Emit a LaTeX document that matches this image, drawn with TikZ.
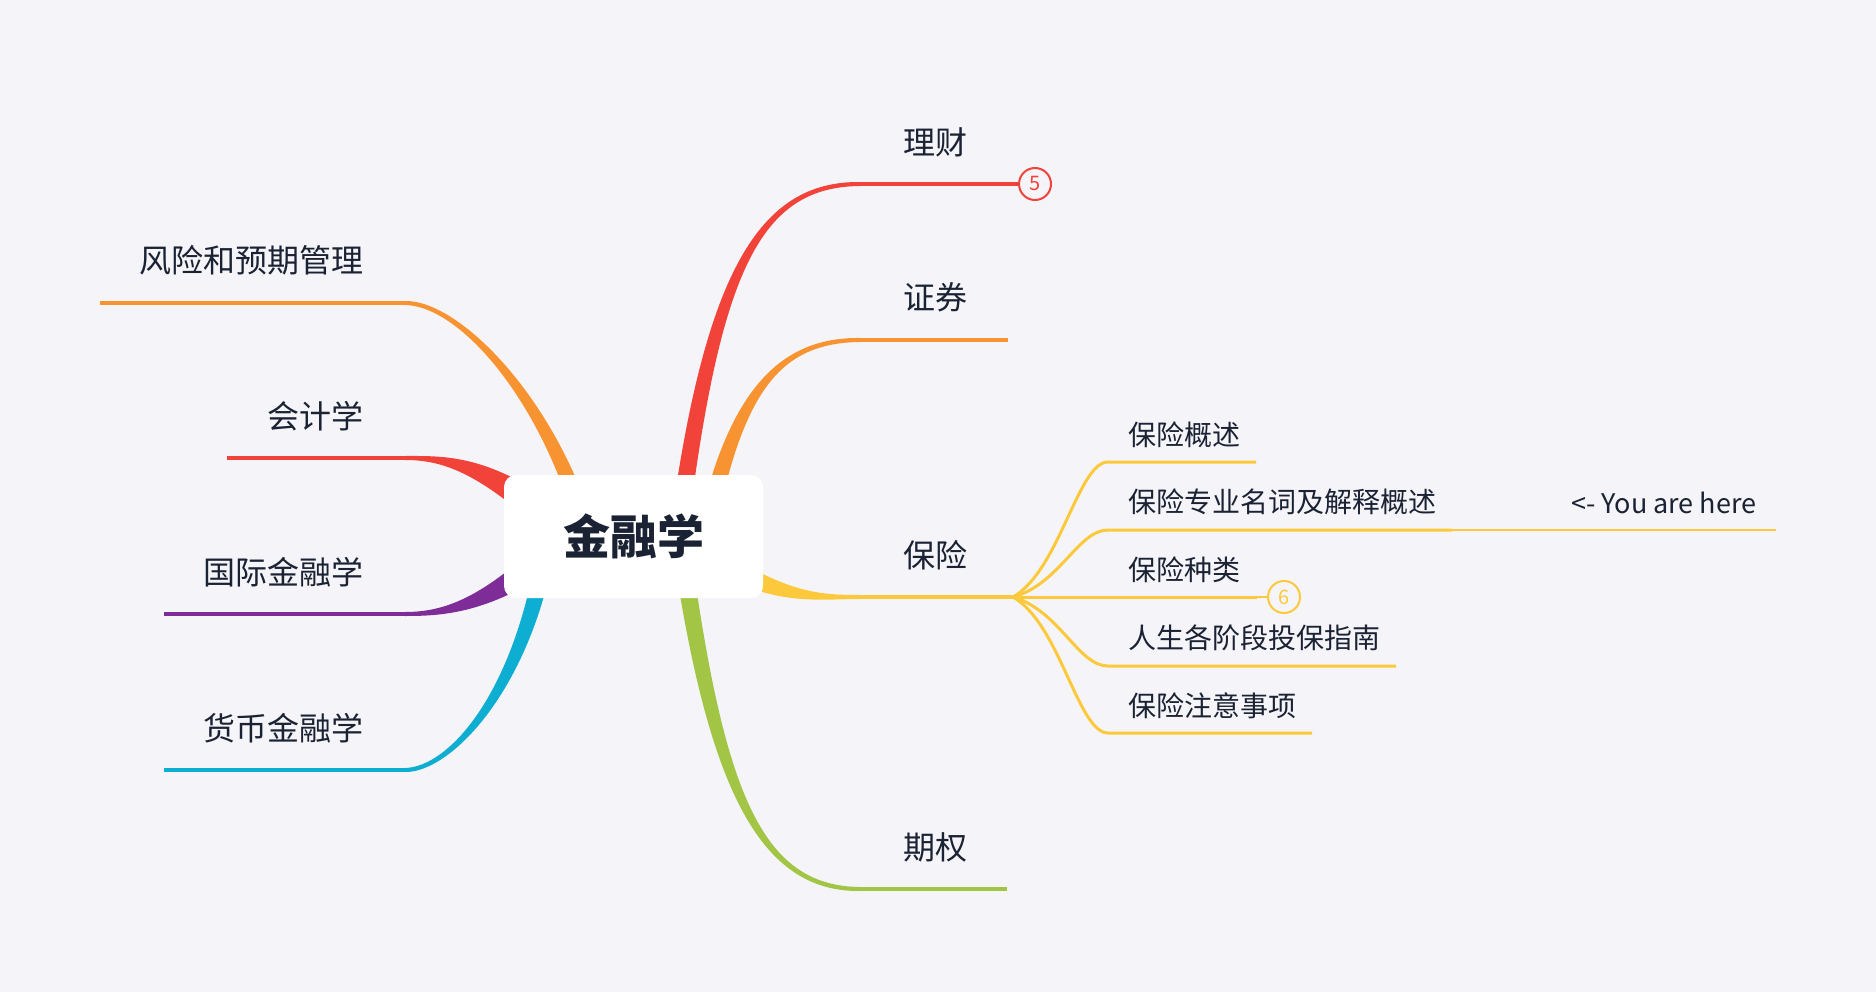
\documentclass[tikz,border=0pt]{standalone}
\usepackage{fontspec}
\setmainfont{Noto Sans CJK SC}
\usetikzlibrary{calc}
\definecolor{bg}{HTML}{F5F5F9}
\definecolor{ink}{HTML}{1A2233}
\definecolor{cred}{HTML}{F1433A}
\definecolor{corange}{HTML}{F79431}
\definecolor{cyellow}{HTML}{FCC93D}
\definecolor{cgreen}{HTML}{A2C545}
\definecolor{cpurple}{HTML}{7E2C98}
\definecolor{ccyan}{HTML}{0DAED2}
% tapered branch: color, P0, P1, P2, P3, end offset of the x-9 side
\newcommand\taperbranch[6]{%
  \fill[#1] ($(#2)+(-9,0)$) .. controls ($(#3)+(-8,0)$) and ($(#4)+(0,{1.5*(#6)})$) .. ($(#5)+(0,#6)$)
    -- ($(#5)+(0,{-1*(#6)})$) .. controls ($(#4)+(0,{-1.5*(#6)})$) and ($(#3)+(8,0)$) .. ($(#2)+(9,0)$) -- cycle;}
\begin{document}
\begin{tikzpicture}[x=1pt,y=-1pt,
  lbl/.style={text=ink,font=\fontsize{32}{38}\selectfont,inner sep=0pt},
  sublbl/.style={text=ink,font=\fontsize{28}{34}\selectfont,inner sep=0pt,anchor=west},
  notelbl/.style={text=ink,font=\fontsize{27}{32}\selectfont,inner sep=0pt,anchor=west},
  hline/.style={line width=4pt},
  subline/.style={cyellow,line width=3pt},
  badge/.style={circle,draw=#1,text=#1,fill=bg,line width=2pt,minimum size=32pt,inner sep=0pt,font=\fontsize{20}{21}\selectfont},
  rootbox/.style={fill=white,rounded corners=12pt,minimum width=259pt,minimum height=123pt,inner sep=0pt,text=ink,font=\fontsize{47}{50}\selectfont\bfseries}
]
\fill[bg] (0,0) rectangle (1876,992);
\useasboundingbox (0,0) rectangle (1876,992);

% ---- coordinates of branch ends
\coordinate (r1) at (860,184);
\coordinate (r2) at (860,340);   \coordinate (r2e) at (1008,340);
\coordinate (r3) at (860,597);   \coordinate (J) at (1013,597);
\coordinate (r4) at (860,889);   \coordinate (r4e) at (1007,889);
\coordinate (l1) at (405,303);   \coordinate (l1e) at (100,303);
\coordinate (l2) at (405,458);   \coordinate (l2e) at (227,458);
\coordinate (l3) at (405,614);   \coordinate (l3e) at (164,614);
\coordinate (l4) at (405,770);   \coordinate (l4e) at (164,770);

% ---- main tapered branches (right)
\taperbranch{cred}{678,537}{712,270}{760,184}{r1}{-2}
\taperbranch{corange}{705,537}{735,390}{780,340}{r2}{-2}
\taperbranch{cgreen}{680,537}{715,790}{760,889}{r4}{2}
\fill[cyellow] (725,553) .. controls (790,593) and (820,595) .. (860,595)
  -- (860,599) .. controls (820,599) and (780,606) .. (720,575) -- cycle;
% ---- main tapered branches (left)
\taperbranch{corange}{588,537}{550,400}{460,303}{l1}{2}
\taperbranch{ccyan}{548,537}{525,690}{450,770}{l4}{-2}
\fill[cred] (545,497) .. controls (482,454) and (440,456) .. (405,456)
  -- (405,460) .. controls (440,460) and (474,471) .. (532,522) -- cycle;
\fill[cpurple] (532,550) .. controls (476,601) and (440,612) .. (405,612)
  -- (405,616) .. controls (440,616) and (484,614) .. (547,573) -- cycle;

% ---- badges
\node[badge=cred] (b5) at (1035,184) {5};
\node[badge=cyellow] (b6) at (1284,597) {6};

% ---- horizontal lines
\draw[hline,cred] (r1) -- (b5.west);
\draw[hline,corange] (r2) -- (r2e);
\draw[hline,cyellow] (r3) -- (J);
\draw[hline,cgreen] (r4) -- (r4e);
\draw[hline,corange] (l1) -- (l1e);
\draw[hline,cred] (l2) -- (l2e);
\draw[hline,cpurple] (l3) -- (l3e);
\draw[hline,ccyan] (l4) -- (l4e);

% ---- root
\node[rootbox] (root) at (633.5,536.5) {金融学};

% ---- main labels
\node[lbl] (licai) at (935,142) {理财};
\node[lbl] (zhengquan) at (935,297) {证券};
\node[lbl] (baoxian) at (935,555) {保险};
\node[lbl] (qiquan) at (935,847) {期权};
\node[lbl,anchor=east] (fengxian) at (364,260) {风险和预期管理};
\node[lbl,anchor=east] (kuaiji) at (364,416) {会计学};
\node[lbl,anchor=east] (guoji) at (364,572) {国际金融学};
\node[lbl,anchor=east] (huobi) at (364,728) {货币金融学};

% ---- sub branches of 保险
\coordinate (s1a) at (1108,462); \coordinate (s1b) at (1256,462);
\coordinate (s2a) at (1108,530); \coordinate (s2b) at (1452,530); \coordinate (s2c) at (1776,530);
\coordinate (s3b) at (1257,597);
\coordinate (s4a) at (1108,666); \coordinate (s4b) at (1396,666);
\coordinate (s5a) at (1108,733); \coordinate (s5b) at (1312,733);

\draw[subline] (J) .. controls (1060,570) and (1078,462) .. (s1a) -- (s1b);
\draw[subline] (J) .. controls (1060,584) and (1078,530) .. (s2a) -- (s2b);
\draw[cyellow,line width=1.5pt] (s2b) -- (s2c);
\draw[subline] (J) -- (s3b);
\draw[cyellow,line width=1.5pt] (s3b) -- (b6.west);
\draw[subline] (J) .. controls (1060,611) and (1078,666) .. (s4a) -- (s4b);
\draw[subline] (J) .. controls (1060,624) and (1078,733) .. (s5a) -- (s5b);

\node[sublbl] (t1) at (1128,435) {保险概述};
\node[sublbl] (t2) at (1128,502) {保险专业名词及解释概述};
\node[sublbl] (t3) at (1128,570) {保险种类};
\node[sublbl] (t4) at (1128,638) {人生各阶段投保指南};
\node[sublbl] (t5) at (1128,706) {保险注意事项};
\node[notelbl] (here) at (1571,503) {<- You are here};
\end{tikzpicture}
\end{document}
